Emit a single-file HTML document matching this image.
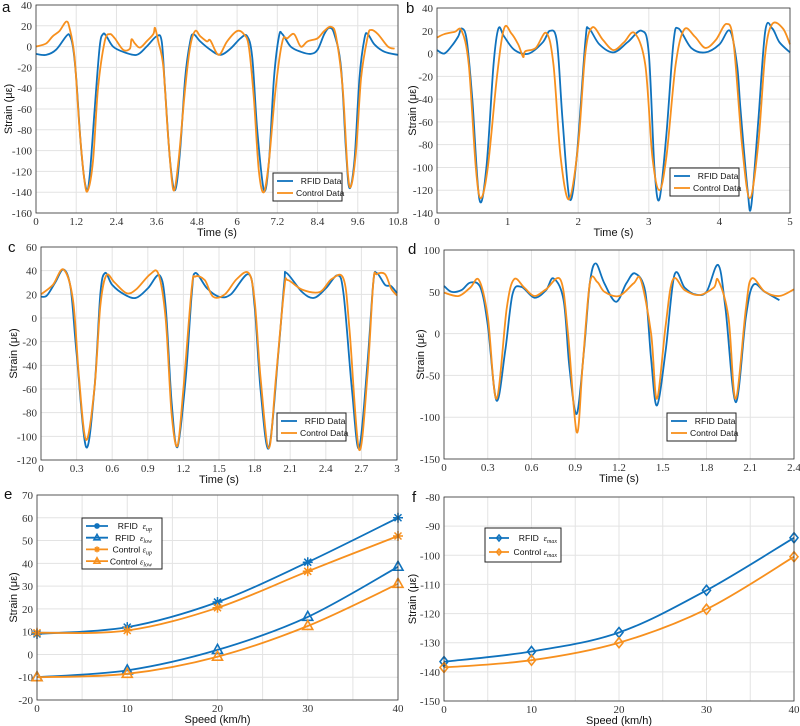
<!DOCTYPE html>
<html><head><meta charset="utf-8"><style>
body{margin:0;background:#fff;width:800px;height:726px;overflow:hidden}
svg{display:block}
.tk{font-family:"Liberation Serif",serif;font-size:11px;fill:#333}
.lb{font-family:"Liberation Sans",sans-serif;font-size:11px;fill:#111}
.pl{font-family:"Liberation Sans",sans-serif;font-size:15px;fill:#111}
.lg{font-family:"Liberation Sans",sans-serif;font-size:8.6px;fill:#111}
</style></head><body>
<svg id="fig" width="800" height="726"></svg>
<script>
// Panel a
const aRfidT=[0,0.3,0.6,0.9,1.0,1.1,1.2,1.35,1.5,1.6,1.75,1.9,2.0,2.1,2.3,2.6,3.0,3.3,3.6,3.75,3.85,4.0,4.15,4.3,4.45,4.6,4.7,4.9,5.2,5.5,5.8,6.1,6.3,6.45,6.6,6.8,6.95,7.1,7.25,7.35,7.6,7.9,8.2,8.4,8.6,8.75,8.9,9.1,9.25,9.35,9.5,9.65,9.8,9.9,10.1,10.4,10.8];
const aRfidV=[-7,-8,-3,10,11,0,-30,-100,-137,-125,-60,0,12,10,0,-5,-8,0,10,5,-40,-110,-138,-100,-30,5,12,5,-3,-8,-2,8,10,-10,-80,-138,-110,-30,10,12,0,-5,-7,-3,12,18,12,-20,-100,-136,-110,-30,8,12,2,-5,-8];
const aCtrlT=[0,0.3,0.5,0.7,0.9,1.0,1.15,1.3,1.45,1.55,1.7,1.85,2.05,2.2,2.35,2.6,2.8,2.85,2.95,3.1,3.3,3.5,3.55,3.65,3.8,3.95,4.1,4.25,4.45,4.6,4.75,4.9,5.1,5.2,5.45,5.7,6.0,6.2,6.35,6.5,6.65,6.8,6.95,7.15,7.35,7.5,7.7,7.9,8.1,8.4,8.6,8.8,8.95,9.15,9.3,9.4,9.55,9.7,9.9,10.0,10.2,10.5,10.7];
const aCtrlV=[0,3,10,15,24,18,-10,-80,-130,-138,-110,-40,5,12,8,-3,-2,7,3,-1,5,12,18,5,-20,-90,-138,-110,-40,0,15,10,5,6,-8,5,15,12,0,-50,-120,-140,-110,-40,5,8,12,0,5,8,15,19,10,-40,-120,-134,-100,-30,10,16,12,0,-2];
// Panel b
const bRfidT=[0,0.1,0.2,0.3,0.35,0.42,0.5,0.6,0.7,0.8,0.87,0.95,1.1,1.3,1.5,1.6,1.7,1.78,1.88,1.98,2.1,2.15,2.3,2.5,2.7,2.9,3.0,3.08,3.15,3.25,3.35,3.42,3.6,3.8,4.0,4.15,4.25,4.3,4.4,4.45,4.55,4.65,4.75,4.85,5.0];
const bRfidV=[3,0,6,15,22,12,-40,-128,-100,-10,22,15,3,0,10,20,10,-60,-128,-90,10,22,8,1,10,20,0,-100,-128,-70,10,22,5,1,8,20,-10,-50,-120,-134,-60,20,22,10,1];
const bCtrlT=[0,0.1,0.25,0.35,0.45,0.55,0.62,0.72,0.85,0.95,1.05,1.15,1.22,1.25,1.4,1.55,1.65,1.75,1.87,2.0,2.1,2.2,2.35,2.5,2.65,2.8,2.95,3.05,3.15,3.25,3.38,3.5,3.65,3.8,3.95,4.1,4.2,4.32,4.43,4.55,4.65,4.75,4.9,5.0];
const bCtrlV=[14,17,19,20,-10,-100,-127,-100,-20,22,18,8,-3,2,5,18,-10,-90,-128,-80,0,23,12,3,10,18,-10,-90,-120,-90,-10,21,15,5,12,26,10,-80,-127,-80,0,26,22,8];
// Panel c
const cRfidT=[0,0.05,0.12,0.19,0.25,0.3,0.38,0.45,0.5,0.54,0.6,0.7,0.8,0.9,1.0,1.05,1.1,1.15,1.22,1.27,1.3,1.4,1.5,1.6,1.75,1.8,1.85,1.92,2.0,2.05,2.07,2.2,2.3,2.4,2.5,2.55,2.62,2.68,2.75,2.8,2.83,2.9,2.95,3.0];
const cRfidV=[18,19,30,41,25,-30,-109,-60,20,38,28,20,17,25,36,10,-70,-109,-50,20,38,25,18,20,37,10,-60,-110,-30,30,38,22,17,25,36,20,-60,-110,-40,30,38,28,27,21];
const cCtrlT=[0,0.1,0.19,0.27,0.32,0.38,0.45,0.5,0.55,0.62,0.72,0.8,0.92,0.99,1.05,1.1,1.15,1.2,1.27,1.3,1.38,1.45,1.55,1.65,1.75,1.8,1.85,1.92,1.98,2.05,2.08,2.2,2.35,2.45,2.55,2.6,2.68,2.75,2.8,2.83,2.9,2.95,3.0];
const cCtrlV=[20,28,41,15,-50,-103,-60,10,36,30,21,24,37,37,0,-80,-108,-60,25,35,32,18,20,33,38,15,-50,-110,-50,25,32,24,22,33,33,-10,-111,-50,30,37,37,25,19];
// Panel d
const dRfidT=[0,0.05,0.12,0.18,0.25,0.3,0.36,0.42,0.47,0.53,0.62,0.7,0.75,0.82,0.86,0.91,0.96,1.0,1.04,1.1,1.18,1.25,1.31,1.38,1.42,1.46,1.52,1.58,1.65,1.72,1.8,1.88,1.93,2.0,2.07,2.12,2.2,2.3];
const dRfidV=[57,50,52,61,55,10,-80,-20,47,56,43,52,66,40,-40,-96,-20,60,84,60,38,60,72,50,-30,-86,-20,70,55,47,50,82,30,-82,20,58,50,40];
const dCtrlT=[0,0.1,0.18,0.24,0.3,0.36,0.43,0.48,0.55,0.62,0.7,0.8,0.85,0.91,0.95,1.0,1.05,1.1,1.2,1.3,1.35,1.42,1.46,1.52,1.57,1.65,1.75,1.85,1.88,1.95,2.0,2.07,2.11,2.2,2.3,2.4];
const dCtrlV=[49,45,55,64,20,-78,30,65,55,45,53,64,0,-118,-40,60,62,50,45,60,64,0,-78,10,65,52,46,55,64,20,-78,30,66,50,45,53];
// Panel e, f
const speeds=[0,10,20,30,40];
const eRfidUp=[9,12,23,40.5,60];
const eRfidLow=[-10,-7,2,16.5,38.5];
const eCtrlUp=[9.5,10.5,20.5,36.5,52];
const eCtrlLow=[-10,-8.5,-1,12.5,31];
const fRfid=[-136.5,-133,-126.5,-112,-94];
const fCtrl=[-138.5,-136,-130,-118.5,-100.5];

const BLUE="#0f72bd", ORANGE="#f7901e";
const NS="http://www.w3.org/2000/svg";
const fig=document.getElementById('fig');
function mk(tag,attrs,parent){const e=document.createElementNS(NS,tag);for(const k in attrs)e.setAttribute(k,attrs[k]);(parent||fig).appendChild(e);return e;}
function smooth(pts){
  let d="M"+pts[0][0].toFixed(1)+","+pts[0][1].toFixed(1);
  for(let i=0;i<pts.length-1;i++){
    const p0=pts[Math.max(0,i-1)],p1=pts[i],p2=pts[i+1],p3=pts[Math.min(pts.length-1,i+2)];
    const c1=[p1[0]+(p2[0]-p0[0])/6,p1[1]+(p2[1]-p0[1])/6];
    const c2=[p2[0]-(p3[0]-p1[0])/6,p2[1]-(p3[1]-p1[1])/6];
    d+="C"+c1[0].toFixed(1)+","+c1[1].toFixed(1)+" "+c2[0].toFixed(1)+","+c2[1].toFixed(1)+" "+p2[0].toFixed(1)+","+p2[1].toFixed(1);
  }
  return d;
}
function panel(c){
  const g=mk('g',{});
  
  
  const sx=v=>c.x0+(v-c.xmin)/(c.xmax-c.xmin)*(c.x1-c.x0);
  const sy=v=>c.y1-(v-c.ymin)/(c.ymax-c.ymin)*(c.y1-c.y0);
  mk('rect',{x:c.x0,y:c.y0,width:c.x1-c.x0,height:c.y1-c.y0,fill:'#fff'},g);
  for(const v of c.xgrid){const l=mk('line',{x1:sx(v),x2:sx(v),y1:c.y0,y2:c.y1,stroke:'#e3e3e3','stroke-width':1},g);}
  for(let v=c.ymin;v<=c.ymax+1e-9;v+=c.ystep){const l=mk('line',{x1:c.x0,x2:c.x1,y1:sy(v),y2:sy(v),stroke:'#e3e3e3','stroke-width':1},g);
    const t=mk('text',{x:c.x0-4,y:sy(v)+4,'text-anchor':'end',class:'tk'},g);t.textContent=v;}
  c.xticks.forEach((v,i)=>{const t=mk('text',{x:sx(v),y:c.y1+12,'text-anchor':'middle',class:'tk'},g);t.textContent=c.xtickLabels[i];});
  for(const s of c.series){
    const pts=s.xs.map((x,i)=>[sx(x),sy(s.ys[i])]);
    const p=mk('path',{d:smooth(pts),fill:'none',stroke:s.color,'stroke-width':s.w||1.8,'stroke-linejoin':'round'},g);
    
    if(s.marker) pts.forEach(pt=>marker(g,s.marker,pt[0],pt[1],s.color,5));
  }
  mk('rect',{x:c.x0,y:c.y0,width:c.x1-c.x0,height:c.y1-c.y0,fill:'none',stroke:'#333','stroke-width':0.8},g);
  const xl=mk('text',{x:(c.x0+c.x1)/2,y:c.y1+23,'text-anchor':'middle',class:'lb'},g);xl.textContent=c.xlabel;
  const yx=c.ylabx,yy=(c.y0+c.y1)/2;
  const yl=mk('text',{x:yx,y:yy,'text-anchor':'middle',class:'lb',transform:`rotate(-90 ${yx} ${yy})`},g);yl.textContent='Strain (με)';
  const pl=mk('text',{x:c.lx,y:c.ly,class:'pl'},g);pl.textContent=c.letter;
  const L=c.legend;
  const lr=mk('rect',{x:L.x,y:L.y,width:L.w,height:L.h,fill:'#fff',stroke:'#222','stroke-width':1},g);
  L.items.forEach((it,i)=>{
    const yy=L.y+L.pad+i*L.dy;
    mk('line',{x1:L.x+4,x2:L.x+4+L.ll,y1:yy,y2:yy,stroke:it.color,'stroke-width':1.8},g);
    if(it.marker)marker(g,it.marker,L.x+4+L.ll/2,yy,it.color,3);
    const t=mk('text',{x:L.x+L.tx,y:yy+3.2,class:'lg','text-anchor':it.anchor||'start'},g);t.innerHTML=it.label;
  });
}
function marker(g,type,x,y,col,r){
  let m;
  if(type==='star'){m=mk('path',{d:`M${x-r},${y}H${x+r}M${x},${y-r}V${y+r}M${x-r*0.7},${y-r*0.7}L${x+r*0.7},${y+r*0.7}M${x-r*0.7},${y+r*0.7}L${x+r*0.7},${y-r*0.7}`,stroke:col,'stroke-width':1.5,fill:'none'},g);}
  else if(type==='tri'){m=mk('path',{d:`M${x},${y-r*1.1}L${x+r},${y+r*0.7}L${x-r},${y+r*0.7}Z`,stroke:col,'stroke-width':1.6,fill:'none'},g);}
  else {m=mk('path',{d:`M${x},${y-r}L${x+r*0.8},${y}L${x},${y+r}L${x-r*0.8},${y}Z`,stroke:col,'stroke-width':1.6,fill:'none'},g);}
  
}
const rng=(a,b,s)=>{const r=[];for(let v=a;v<=b+1e-9;v+=s)r.push(+v.toFixed(2));return r;};
const tsLegend=(x,y)=>({x,y,w:69,h:28,pad:8,dy:12,ll:16,tx:23,items:[{color:BLUE,label:'&#160;&#160;RFID Data'},{color:ORANGE,label:'Control Data'}]});

const ta=rng(0,10.8,1.2);
panel({letter:'a',lx:2,ly:12,x0:36,x1:398,y0:5,y1:213,xmin:0,xmax:10.8,ymin:-160,ymax:40,ystep:20,xgrid:ta,xticks:ta,xtickLabels:ta.map(v=>String(v)),xlabel:'Time (s)',ylabx:12,
 legend:tsLegend(273,173),series:[{xs:aRfidT,ys:aRfidV,color:BLUE,name:'rfid-line'},{xs:aCtrlT,ys:aCtrlV,color:ORANGE,name:'control-line'}]});
const tb=rng(0,5,1);
panel({letter:'b',lx:406,ly:13,x0:437,x1:790,y0:8,y1:213,xmin:0,xmax:5,ymin:-140,ymax:40,ystep:20,xgrid:tb,xticks:tb,xtickLabels:tb.map(String),xlabel:'Time (s)',ylabx:416,
 legend:tsLegend(670,168),series:[{xs:bRfidT,ys:bRfidV,color:BLUE,name:'rfid-line'},{xs:bCtrlT,ys:bCtrlV,color:ORANGE,name:'control-line'}]});
const tc=rng(0,3,0.3);
panel({letter:'c',lx:8,ly:252,x0:41,x1:397,y0:247,y1:460,xmin:0,xmax:3,ymin:-120,ymax:60,ystep:20,xgrid:tc,xticks:tc,xtickLabels:tc.map(v=>String(v)),xlabel:'Time (s)',ylabx:17,
 legend:tsLegend(277,413),series:[{xs:cRfidT,ys:cRfidV,color:BLUE,name:'rfid-line'},{xs:cCtrlT,ys:cCtrlV,color:ORANGE,name:'control-line'}]});
const td=rng(0,2.4,0.3);
panel({letter:'d',lx:408,ly:254,x0:444,x1:794,y0:250,y1:459,xmin:0,xmax:2.4,ymin:-150,ymax:100,ystep:50,xgrid:td,xticks:td,xtickLabels:td.map(v=>String(v)),xlabel:'Time (s)',ylabx:424,
 legend:tsLegend(667,413),series:[{xs:dRfidT,ys:dRfidV,color:BLUE,name:'rfid-line'},{xs:dCtrlT,ys:dCtrlV,color:ORANGE,name:'control-line'}]});
const sg=rng(0,40,5);
panel({letter:'e',lx:4,ly:499,x0:37,x1:398,y0:495,y1:700,xmin:0,xmax:40,ymin:-20,ymax:70,ystep:10,xgrid:sg,xticks:speeds,xtickLabels:speeds.map(String),xlabel:'Speed (km/h)',ylabx:17,
 legend:{x:82,y:518,w:80,h:51,pad:8,dy:11.7,ll:22,tx:70,items:[
  {color:BLUE,marker:'star',label:'RFID&#160;&#160;<tspan font-family="Liberation Serif" font-style="italic">ε<tspan font-size="6" dy="2">up</tspan></tspan>',anchor:'end'},
  {color:BLUE,marker:'tri',label:'RFID&#160;&#160;<tspan font-family="Liberation Serif" font-style="italic">ε<tspan font-size="6" dy="2">low</tspan></tspan>',anchor:'end'},
  {color:ORANGE,marker:'star',label:'Control <tspan font-family="Liberation Serif" font-style="italic">ε<tspan font-size="6" dy="2">up</tspan></tspan>',anchor:'end'},
  {color:ORANGE,marker:'tri',label:'Control <tspan font-family="Liberation Serif" font-style="italic">ε<tspan font-size="6" dy="2">low</tspan></tspan>',anchor:'end'}]},
 series:[{xs:speeds,ys:eRfidUp,color:BLUE,marker:'star',name:'rfid-up-line'},{xs:speeds,ys:eRfidLow,color:BLUE,marker:'tri',name:'rfid-low-line'},
  {xs:speeds,ys:eCtrlUp,color:ORANGE,marker:'star',name:'control-up-line'},{xs:speeds,ys:eCtrlLow,color:ORANGE,marker:'tri',name:'control-low-line'}]});
panel({letter:'f',lx:412,ly:502,x0:444,x1:794,y0:497,y1:701,xmin:0,xmax:40,ymin:-150,ymax:-80,ystep:10,xgrid:sg,xticks:speeds,xtickLabels:speeds.map(String),xlabel:'Speed (km/h)',ylabx:416,
 legend:{x:485,y:528,w:76,h:34,pad:10,dy:14,ll:20,tx:72,items:[
  {color:BLUE,marker:'dia',label:'RFID&#160;&#160;<tspan font-family="Liberation Serif" font-style="italic">ε<tspan font-size="6" dy="2">max</tspan></tspan>',anchor:'end'},
  {color:ORANGE,marker:'dia',label:'Control <tspan font-family="Liberation Serif" font-style="italic">ε<tspan font-size="6" dy="2">max</tspan></tspan>',anchor:'end'}]},
 series:[{xs:speeds,ys:fRfid,color:BLUE,marker:'dia',name:'rfid-max-line'},{xs:speeds,ys:fCtrl,color:ORANGE,marker:'dia',name:'control-max-line'}]});
</script>
</body></html>
